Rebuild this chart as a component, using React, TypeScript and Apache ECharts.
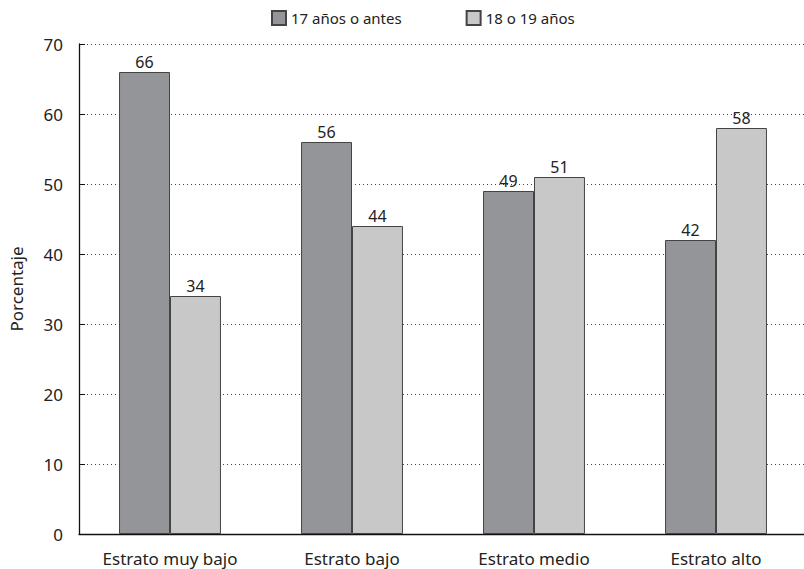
import React, { useEffect, useRef } from "react";
import * as echarts from "echarts";

const categories = ["Estrato muy bajo", "Estrato bajo", "Estrato medio", "Estrato alto"];
const seriesNames = ["17 años o antes", "18 o 19 años"];
const early = [66, 56, 49, 42];
const late = [34, 44, 51, 58];

const FONT = "Noto Sans";

export default function App() {
  const ref = useRef<HTMLDivElement>(null);
  useEffect(() => {
    const chart = echarts.init(ref.current!, null, { renderer: "svg" });
    chart.setOption({
      animation: false,
      backgroundColor: "#ffffff",
      textStyle: { fontFamily: FONT },
      legend: {
        top: 5,
        left: 266,
        itemWidth: 14,
        itemHeight: 14,
        itemGap: 64,
        icon: "rect",
        textStyle: { fontFamily: FONT, fontSize: 15, color: "#222" },
        data: seriesNames,
      },
      grid: { left: 79, top: 44, width: 728, height: 490, outerBoundsMode: "none", containLabel: false },
      xAxis: {
        type: "category",
        data: categories,
        axisLine: { lineStyle: { color: "#111", width: 1.3 } },
        axisTick: { inside: true, length: 6, lineStyle: { color: "#111" } },
        axisLabel: { fontFamily: FONT, fontSize: 17, color: "#222", margin: 16 },
      },
      yAxis: {
        type: "value",
        min: 0,
        max: 70,
        interval: 10,
        name: "Porcentaje",
        nameLocation: "middle",
        nameGap: 54,
        nameTextStyle: { fontFamily: FONT, fontSize: 17, color: "#222" },
        axisLine: { show: true, lineStyle: { color: "#111", width: 1.3 } },
        axisTick: { show: true, inside: true, length: 6, lineStyle: { color: "#111" } },
        axisLabel: { fontFamily: FONT, fontSize: 17, color: "#222", margin: 16 },
        splitLine: { show: true, lineStyle: { color: "#444", type: [1, 3], width: 1 } },
      },
      series: [
        {
          name: seriesNames[0],
          type: "bar",
          data: early,
          barGap: "0%",
          barCategoryGap: "44%",
          itemStyle: { color: "#939598", borderColor: "#444", borderWidth: 1 },
          label: { show: true, position: "top", distance: 2, fontFamily: FONT, fontSize: 16, color: "#222" },
        },
        {
          name: seriesNames[1],
          type: "bar",
          data: late,
          barGap: "0%",
          barCategoryGap: "44%",
          itemStyle: { color: "#c8c8c9", borderColor: "#444", borderWidth: 1 },
          label: { show: true, position: "top", distance: 2, fontFamily: FONT, fontSize: 16, color: "#222" },
        },
      ],
    });
    return () => chart.dispose();
  }, []);
  return (
    <div
      ref={ref}
      style={{ position: "fixed", left: 0, top: 0, width: 804, height: 569, background: "#fff" }}
    />
  );
}
